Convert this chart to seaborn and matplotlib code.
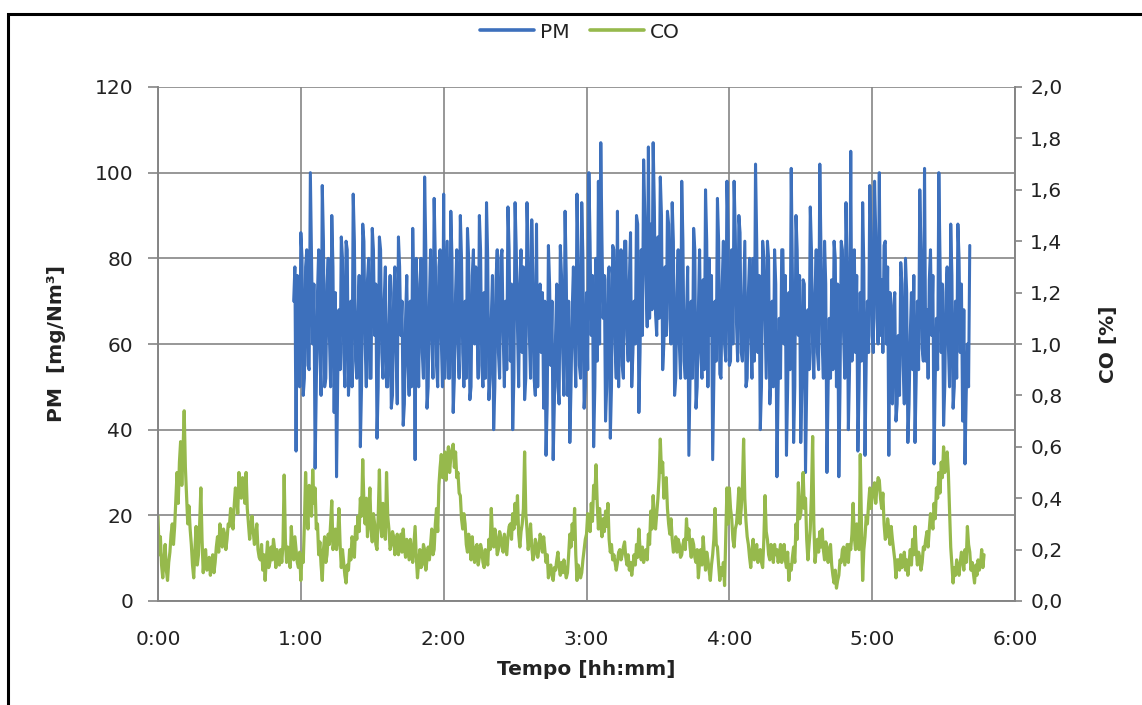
import numpy as np
import pandas as pd
import matplotlib
matplotlib.use("Agg")
import matplotlib.pyplot as plt
import matplotlib.patches as patches
import seaborn as sns

# ---- data -----------------------------------------------------------------
# PM concentration [mg/Nm3]: readings on the full minute (from minute 57)
pm_start_min = 57
pm_values = [
    70, 35, 62, 86, 48, 78, 55, 100, 60, 31,
    72, 58, 97, 50, 74, 62, 90, 44, 29, 68,
    85, 58, 84, 48, 70, 95, 56, 66, 36, 88,
    60, 75, 52, 87, 62, 38, 85, 58, 70, 50,
    64, 45, 72, 58, 85, 62, 41, 66, 55, 70,
    87, 33, 62, 74, 58, 99, 45, 70, 62, 94,
    55, 78, 61, 95, 68, 52, 91, 44, 72, 60,
    90, 58, 70, 87, 47, 76, 60, 64, 90, 55,
    72, 93, 47, 66, 40, 75, 58, 80, 62, 70,
    92, 56, 40, 93, 64, 74, 58, 47, 93, 62,
    89, 52, 88, 70, 58, 45, 34, 83, 55, 33,
    62, 50, 83, 58, 91, 48, 37, 68, 60, 95,
    55, 93, 45, 72, 100, 62, 36, 80, 98, 107,
    66, 42, 75, 38, 83, 60, 91, 70, 55, 84,
    62, 75, 50, 70, 90, 44, 82, 103, 75, 106,
    88, 107, 67, 85, 99, 54, 78, 91, 66, 93,
    48, 72, 60, 98, 56, 66, 34, 70, 87, 45,
    68, 58, 75, 96, 50, 62, 33, 70, 94, 53,
    74, 60, 98, 55, 82, 98, 65, 90, 58, 70,
    50, 72, 62, 80, 102, 58, 40, 84, 66, 84,
    46, 70, 82, 29, 66, 82, 60, 34, 72, 101,
    37, 90, 62, 37, 75, 30, 68, 92, 58, 72,
    58, 102, 60, 84, 30, 66, 75, 84, 50, 29,
    84, 62, 93, 40, 105, 70, 58, 35, 72, 93,
    34, 70, 97, 62, 98, 66, 100, 75, 83, 60,
    34, 58, 69, 42, 62, 79, 55, 80, 37, 62,
    54, 37, 70, 96, 59, 101, 68, 75, 62, 32,
    66, 100, 58, 41, 72, 60, 88, 45, 70, 88,
    58, 42, 32, 60, 83,
]
# PM readings on the half minute (from minute 57.5)
pm_half_values = [
    78, 76, 50, 80, 52, 82, 54, 80, 74, 50,
    82, 48, 84, 52, 80, 50, 78, 72, 52, 54,
    80, 50, 82, 54, 50, 84, 52, 76, 50, 84,
    50, 80, 52, 82, 74, 50, 82, 52, 78, 50,
    76, 48, 78, 46, 78, 70, 46, 76, 48, 50,
    72, 80, 50, 80, 52, 82, 50, 82, 52, 80,
    50, 82, 50, 52, 84, 52, 80, 52, 82, 52,
    80, 50, 52, 80, 50, 82, 78, 52, 82, 50,
    52, 80, 52, 76, 50, 82, 52, 82, 50, 54,
    82, 74, 52, 82, 50, 82, 78, 52, 82, 52,
    76, 48, 50, 74, 72, 70, 46, 74, 70, 46,
    74, 46, 76, 48, 76, 70, 50, 78, 50, 80,
    52, 80, 50, 54, 84, 76, 50, 56, 60, 84,
    76, 50, 78, 50, 82, 52, 50, 82, 52, 84,
    56, 86, 58, 60, 88, 58, 62, 90, 64, 66,
    68, 92, 62, 66, 90, 60, 62, 88, 60, 84,
    52, 82, 52, 84, 52, 78, 52, 52, 82, 50,
    82, 52, 54, 84, 80, 76, 52, 56, 84, 52,
    84, 56, 86, 56, 60, 86, 56, 86, 56, 84,
    52, 80, 52, 56, 84, 76, 50, 80, 52, 80,
    52, 50, 74, 50, 52, 82, 76, 50, 54, 76,
    50, 82, 76, 50, 74, 50, 54, 82, 52, 82,
    54, 82, 52, 74, 50, 52, 54, 80, 74, 50,
    82, 52, 78, 54, 56, 82, 76, 50, 56, 78,
    56, 58, 86, 58, 86, 60, 62, 58, 84, 78,
    72, 46, 72, 46, 48, 74, 46, 72, 46, 72,
    76, 52, 54, 82, 56, 56, 52, 82, 76, 52,
    54, 80, 74, 50, 78, 50, 76, 50, 52, 80,
    74, 68, 48, 50,
]

# CO concentration [%]: readings on the full minute (from minute 0)
co_start_min = 0
co_values = [
    0.33, 0.25, 0.09, 0.22, 0.08, 0.19, 0.30, 0.29, 0.50, 0.54,
    0.45, 0.74, 0.41, 0.37, 0.22, 0.09, 0.29, 0.18, 0.44, 0.11,
    0.20, 0.13, 0.10, 0.18, 0.15, 0.25, 0.30, 0.21, 0.26, 0.24,
    0.29, 0.33, 0.37, 0.42, 0.50, 0.40, 0.44, 0.50, 0.30, 0.29,
    0.27, 0.25, 0.20, 0.16, 0.12, 0.08, 0.23, 0.15, 0.16, 0.20,
    0.20, 0.14, 0.15, 0.49, 0.15, 0.18, 0.29, 0.16, 0.20, 0.13,
    0.08, 0.15, 0.50, 0.28, 0.40, 0.51, 0.44, 0.30, 0.23, 0.08,
    0.25, 0.18, 0.22, 0.39, 0.23, 0.20, 0.36, 0.13, 0.15, 0.07,
    0.12, 0.16, 0.22, 0.29, 0.33, 0.40, 0.55, 0.30, 0.25, 0.44,
    0.23, 0.30, 0.20, 0.51, 0.25, 0.35, 0.50, 0.28, 0.22, 0.25,
    0.21, 0.18, 0.26, 0.28, 0.17, 0.20, 0.24, 0.15, 0.29, 0.09,
    0.20, 0.14, 0.20, 0.16, 0.16, 0.28, 0.20, 0.36, 0.45, 0.57,
    0.53, 0.47, 0.60, 0.56, 0.61, 0.58, 0.50, 0.41, 0.28, 0.30,
    0.19, 0.22, 0.25, 0.15, 0.22, 0.17, 0.20, 0.13, 0.18, 0.24,
    0.36, 0.21, 0.25, 0.20, 0.25, 0.19, 0.22, 0.25, 0.30, 0.34,
    0.38, 0.41, 0.21, 0.30, 0.58, 0.28, 0.24, 0.21, 0.18, 0.22,
    0.20, 0.24, 0.25, 0.15, 0.09, 0.14, 0.08, 0.12, 0.19, 0.10,
    0.11, 0.12, 0.11, 0.26, 0.30, 0.36, 0.08, 0.12, 0.11, 0.20,
    0.26, 0.32, 0.38, 0.45, 0.53, 0.28, 0.30, 0.32, 0.35, 0.38,
    0.19, 0.16, 0.15, 0.15, 0.20, 0.18, 0.23, 0.14, 0.12, 0.10,
    0.18, 0.22, 0.28, 0.16, 0.15, 0.20, 0.26, 0.35, 0.41, 0.28,
    0.40, 0.63, 0.54, 0.45, 0.36, 0.26, 0.24, 0.20, 0.19, 0.22,
    0.18, 0.24, 0.32, 0.28, 0.17, 0.22, 0.15, 0.09, 0.20, 0.25,
    0.12, 0.16, 0.08, 0.18, 0.36, 0.21, 0.08, 0.10, 0.06, 0.44,
    0.44, 0.32, 0.21, 0.30, 0.44, 0.36, 0.63, 0.31, 0.22, 0.13,
    0.24, 0.18, 0.15, 0.20, 0.13, 0.41, 0.24, 0.16, 0.20, 0.22,
    0.20, 0.18, 0.15, 0.22, 0.13, 0.08, 0.12, 0.21, 0.30, 0.46,
    0.34, 0.50, 0.40, 0.16, 0.28, 0.64, 0.15, 0.24, 0.27, 0.28,
    0.16, 0.21, 0.19, 0.14, 0.07, 0.05, 0.10, 0.15, 0.21, 0.18,
    0.15, 0.20, 0.38, 0.20, 0.28, 0.57, 0.08, 0.25, 0.30, 0.44,
    0.40, 0.46, 0.44, 0.47, 0.36, 0.30, 0.25, 0.28, 0.29, 0.20,
    0.09, 0.16, 0.18, 0.14, 0.12, 0.10, 0.20, 0.24, 0.29, 0.14,
    0.17, 0.15, 0.20, 0.27, 0.28, 0.33, 0.38, 0.44, 0.50, 0.54,
    0.60, 0.55, 0.50, 0.21, 0.07, 0.10, 0.13, 0.15, 0.16, 0.20,
    0.29, 0.19, 0.15, 0.07, 0.10, 0.12, 0.20, 0.18,
]
# CO readings on the half minute (from minute 0.5)
co_half_values = [
    0.18, 0.14, 0.16, 0.12, 0.15, 0.26, 0.22, 0.40, 0.38, 0.62,
    0.58, 0.52, 0.30, 0.28, 0.14, 0.20, 0.14, 0.30, 0.24, 0.18,
    0.12, 0.17, 0.15, 0.11, 0.21, 0.19, 0.24, 0.28, 0.20, 0.30,
    0.36, 0.28, 0.44, 0.34, 0.42, 0.48, 0.38, 0.36, 0.24, 0.33,
    0.22, 0.30, 0.17, 0.22, 0.18, 0.16, 0.13, 0.21, 0.24, 0.13,
    0.17, 0.20, 0.22, 0.24, 0.21, 0.13, 0.20, 0.25, 0.15, 0.19,
    0.18, 0.30, 0.36, 0.45, 0.33, 0.38, 0.28, 0.18, 0.14, 0.20,
    0.15, 0.26, 0.30, 0.20, 0.28, 0.25, 0.22, 0.20, 0.10, 0.14,
    0.20, 0.25, 0.17, 0.24, 0.27, 0.33, 0.38, 0.40, 0.34, 0.28,
    0.34, 0.22, 0.33, 0.30, 0.38, 0.24, 0.33, 0.20, 0.27, 0.18,
    0.26, 0.22, 0.19, 0.21, 0.24, 0.16, 0.19, 0.22, 0.17, 0.15,
    0.13, 0.22, 0.12, 0.21, 0.22, 0.18, 0.30, 0.27, 0.52, 0.48,
    0.58, 0.55, 0.50, 0.59, 0.52, 0.48, 0.42, 0.32, 0.34, 0.22,
    0.26, 0.16, 0.18, 0.21, 0.14, 0.22, 0.15, 0.20, 0.14, 0.20,
    0.25, 0.28, 0.18, 0.27, 0.21, 0.26, 0.18, 0.29, 0.24, 0.28,
    0.30, 0.26, 0.27, 0.36, 0.34, 0.20, 0.30, 0.16, 0.24, 0.17,
    0.26, 0.19, 0.20, 0.18, 0.13, 0.10, 0.13, 0.16, 0.13, 0.15,
    0.16, 0.09, 0.18, 0.21, 0.24, 0.18, 0.14, 0.09, 0.16, 0.24,
    0.34, 0.27, 0.31, 0.40, 0.38, 0.36, 0.25, 0.27, 0.29, 0.24,
    0.22, 0.18, 0.12, 0.19, 0.16, 0.21, 0.17, 0.18, 0.15, 0.14,
    0.14, 0.17, 0.20, 0.21, 0.18, 0.16, 0.22, 0.28, 0.32, 0.34,
    0.48, 0.50, 0.40, 0.48, 0.30, 0.32, 0.19, 0.25, 0.24, 0.17,
    0.22, 0.20, 0.24, 0.21, 0.24, 0.17, 0.20, 0.15, 0.14, 0.18,
    0.19, 0.12, 0.14, 0.24, 0.22, 0.14, 0.13, 0.15, 0.25, 0.30,
    0.36, 0.24, 0.28, 0.36, 0.30, 0.45, 0.40, 0.25, 0.17, 0.20,
    0.16, 0.22, 0.19, 0.15, 0.24, 0.27, 0.18, 0.22, 0.15, 0.18,
    0.15, 0.22, 0.19, 0.16, 0.19, 0.14, 0.17, 0.15, 0.24, 0.32,
    0.40, 0.36, 0.24, 0.22, 0.42, 0.30, 0.20, 0.19, 0.21, 0.20,
    0.23, 0.15, 0.22, 0.10, 0.12, 0.08, 0.16, 0.20, 0.14, 0.22,
    0.22, 0.26, 0.25, 0.30, 0.20, 0.30, 0.20, 0.33, 0.38, 0.36,
    0.44, 0.38, 0.48, 0.40, 0.42, 0.24, 0.32, 0.22, 0.24, 0.16,
    0.16, 0.12, 0.13, 0.19, 0.16, 0.15, 0.14, 0.18, 0.20, 0.19,
    0.12, 0.21, 0.24, 0.21, 0.34, 0.28, 0.32, 0.40, 0.42, 0.48,
    0.50, 0.58, 0.36, 0.14, 0.13, 0.16, 0.10, 0.19, 0.12, 0.15,
    0.22, 0.12, 0.11, 0.14, 0.16, 0.14, 0.13,
]

x_tick_minutes = [0, 60, 120, 180, 240, 300, 360]
x_tick_labels = ["0:00", "1:00", "2:00", "3:00", "4:00", "5:00", "6:00"]
pm_ticks = [0, 20, 40, 60, 80, 100, 120]
co_ticks = [0.0, 0.2, 0.4, 0.6, 0.8, 1.0, 1.2, 1.4, 1.6, 1.8, 2.0]
co_tick_labels = ["0,0", "0,2", "0,4", "0,6", "0,8", "1,0",
                  "1,2", "1,4", "1,6", "1,8", "2,0"]


def merge_readings(start, full, half):
    """Combine on-the-minute and half-minute readings into one time series."""
    t_full = start + np.arange(len(full), dtype=float)
    t_half = start + 0.5 + np.arange(len(half), dtype=float)
    df = pd.DataFrame({"min": np.concatenate([t_full, t_half]),
                       "val": np.concatenate([full, half])})
    return df.sort_values("min").reset_index(drop=True)


pm_df = merge_readings(pm_start_min, pm_values, pm_half_values)
co_df = merge_readings(co_start_min, co_values, co_half_values)

# ---- style ----------------------------------------------------------------
sns.set_style("white")
plt.rcParams["font.family"] = ["DejaVu Sans"]

PM_COLOR = "#3D70BC"
CO_COLOR = "#96B94C"
GRID = "#858585"
TXT = "#222222"
FS = 14.5

W, H = 1142, 705
fig = plt.figure(figsize=(W / 100, H / 100), dpi=100)
fig.patch.set_facecolor("white")
ax = fig.add_axes([158 / W, 1 - 601 / H, (1015 - 158) / W, (601 - 87) / H])
ax2 = ax.twinx()

sns.lineplot(data=pm_df, x="min", y="val", ax=ax, color=PM_COLOR,
             linewidth=2.2, estimator=None, sort=False, legend=False)
sns.lineplot(data=co_df, x="min", y="val", ax=ax2, color=CO_COLOR,
             linewidth=2.3, estimator=None, sort=False, legend=False)

ax.set_xlim(0, 360)
ax.set_ylim(0, 120)
ax2.set_ylim(0, 2.0)

ax.set_xticks(x_tick_minutes)
ax.set_xticklabels(x_tick_labels)
ax.set_yticks(pm_ticks)
ax2.set_yticks(co_ticks)
ax2.set_yticklabels(co_tick_labels)

ax.grid(True, color=GRID, linewidth=1.2)
ax.set_axisbelow(True)
for sp in ["left", "bottom", "right"]:
    ax.spines[sp].set_color(GRID)
    ax.spines[sp].set_linewidth(1.2)
    ax2.spines[sp].set_color(GRID)
    ax2.spines[sp].set_linewidth(1.2)
ax.spines["top"].set_visible(False)
ax2.spines["top"].set_visible(False)

ax.tick_params(axis="y", direction="out", length=7, width=1.2, color=GRID,
               labelsize=FS, labelcolor=TXT, pad=11)
ax.tick_params(axis="x", direction="out", length=7, width=1.2, color=GRID,
               labelsize=FS, labelcolor=TXT, pad=14)
ax2.tick_params(axis="y", direction="out", length=5, width=1.2, color=GRID,
                labelsize=FS, labelcolor=TXT, pad=6)

ax.set_xlabel("Tempo [hh:mm]", fontsize=FS, fontweight="bold", color=TXT,
              labelpad=8)
ax.set_ylabel("PM  [mg/Nm³]", fontsize=FS, fontweight="bold", color=TXT)
ax.yaxis.set_label_coords(-0.107, 0.5)
ax2.set_ylabel("CO [%]", fontsize=FS, fontweight="bold", color=TXT)
ax2.yaxis.set_label_coords(1.098, 0.5)

handles = ax.get_lines()[:1] + ax2.get_lines()[:1]
leg = fig.legend(handles, ["PM", "CO"], loc="center", ncol=2,
                 bbox_to_anchor=(580 / W, 1 - 32 / H), frameon=False,
                 fontsize=FS, handlelength=2.7, columnspacing=1.0,
                 handletextpad=0.3, labelcolor=TXT)
for ln in leg.get_lines():
    ln.set_linewidth(2.6)

# outer frame of the chart area
fig.patches.append(patches.Rectangle((8 / W, -0.2), 1.2, 1.2 - 14 / H,
                                     transform=fig.transFigure, fill=False,
                                     edgecolor="black", linewidth=2.2))

fig.savefig("out.png", dpi=100, facecolor="white")
